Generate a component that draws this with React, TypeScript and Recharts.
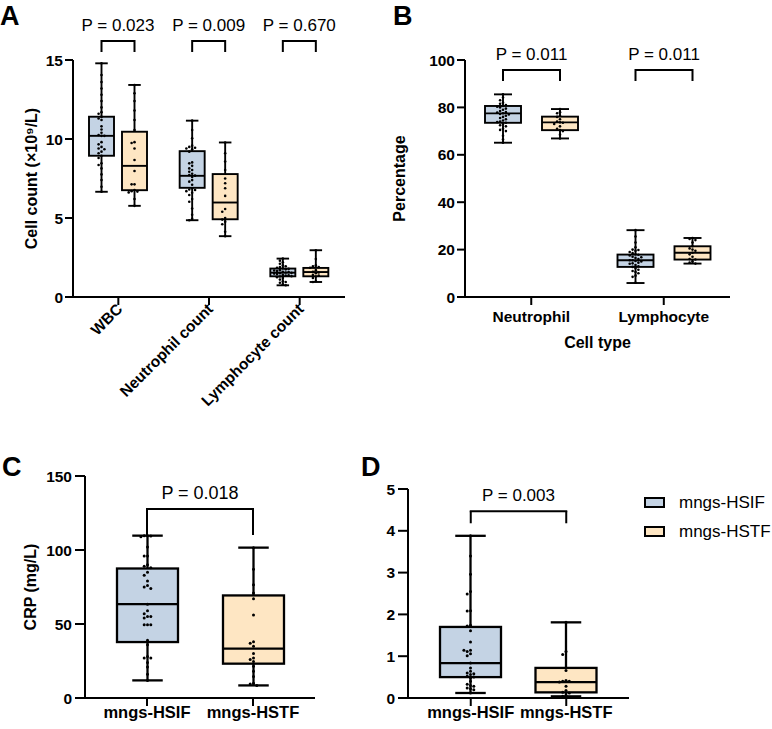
import React from 'react';
import { ComposedChart, Bar, XAxis, YAxis, ReferenceLine, Legend } from 'recharts';

const FONT = '"Liberation Sans", Arial, Helvetica, sans-serif';

const groupNames = ['mngs-HSIF', 'mngs-HSTF'];
const groupFills = ['#c4d3e4', '#fee6c3'];

// A: cell counts, boxes are [min, q1, median, q3, max]
const countCats = ['WBC', 'Neutrophil count', 'Lymphocyte count'];
const countP = ['P = 0.023', 'P = 0.009', 'P = 0.670'];
const countHsifBox = [
  [6.66, 8.94, 10.2, 11.41, 14.79],
  [4.86, 6.91, 7.67, 9.23, 11.16],
  [0.74, 1.31, 1.54, 1.8, 2.43],
];
const countHstfBox = [
  [5.77, 6.76, 8.3, 10.46, 13.42],
  [3.85, 4.92, 5.98, 7.78, 9.78],
  [0.95, 1.31, 1.58, 1.84, 2.96],
];
const countHsifPts = [
  [14.79, 14.05, 13.6, 13.2, 12.8, 12.4, 12.0, 11.7, 11.6, 11.4, 11.3, 11.2, 10.8, 10.6, 10.4, 10.25, 10.2,
    10.2, 9.8, 9.66, 9.5, 9.4, 9.35, 9.2, 9.1, 8.94, 8.8, 8.46, 8.35, 8.14, 7.76, 7.4, 6.98, 6.66],
  [11.16, 10.57, 10.04, 9.58, 9.5, 9.45, 9.4, 9.35, 9.2, 8.52, 8.46, 8.3, 8.14, 8.04, 7.93, 7.8, 7.72,
    7.68, 7.6, 7.4, 7.3, 7.1, 6.88, 6.8, 6.77, 6.7, 6.6, 6.46, 6.2, 6.03, 5.6, 5.2, 4.95, 4.86],
  [2.43, 2.3, 2.2, 2.1, 2.0, 1.95, 1.9, 1.85, 1.8, 1.78, 1.75, 1.7, 1.68, 1.65, 1.6, 1.58, 1.55,
    1.53, 1.5, 1.48, 1.45, 1.4, 1.38, 1.35, 1.32, 1.3, 1.25, 1.2, 1.1, 1.0, 0.95, 0.9, 0.8, 0.74],
];
const countHstfPts = [
  [13.42, 12.9, 12.4, 11.8, 11.2, 10.57, 9.8, 9.75, 9.4, 8.67, 7.97, 7.13, 7.13, 6.77, 6.7, 6.67, 6.62, 6.2, 5.77],
  [9.78, 9.1, 8.57, 8.04, 7.5, 7.2, 6.88, 6.4, 5.57, 5.4, 5.0, 4.9, 4.77, 4.6, 4.13, 3.85],
  [2.96, 2.4, 2.0, 1.95, 1.9, 1.85, 1.7, 1.6, 1.55, 1.5, 1.4, 1.35, 1.3, 1.2, 1.0, 0.95],
];

// B: percentages
const pctCats = ['Neutrophil', 'Lymphocyte'];
const pctP = ['P = 0.011', 'P = 0.011'];
const pctHsifBox = [
  [65.1, 73.5, 77.5, 80.6, 85.5],
  [5.9, 12.7, 15.5, 17.9, 28.2],
];
const pctHstfBox = [
  [66.9, 70.4, 73.7, 76.1, 79.3],
  [14.1, 15.8, 18.7, 21.4, 24.9],
];
const pctHsifPts = [
  [85.5, 84.2, 83, 82, 81.5, 81, 80.6, 80.3, 80, 79.5, 79, 78.5, 78, 77.8, 77.5, 77.2, 77,
    76.5, 76, 75.5, 75, 74.5, 74, 73.8, 73.5, 73, 72.5, 72, 71, 70.5, 70, 68, 66.5, 65.1],
  [28.2, 25.5, 23, 21, 20, 19.8, 19.5, 19, 18.5, 18, 17.8, 17.5, 17, 16.8, 16.5, 16, 15.5,
    15.5, 15.2, 15, 14.5, 14.2, 14, 13.5, 13, 12.7, 12.2, 11.5, 11, 10.5, 10, 9, 8.5, 6],
];
const pctHstfPts = [
  [79.3, 78, 77.5, 76.5, 76, 75, 74, 73.7, 73.5, 73, 72, 71, 70.4, 70, 68.5, 66.9],
  [24.9, 24.5, 24, 23, 21.4, 20.5, 20, 19.5, 18.7, 18, 17, 16, 15.8, 15, 14.5, 14.1],
];

// C: CRP
const crpP = 'P = 0.018';
const crpBox = [
  [11.9, 37.8, 63.4, 87.5, 109.7],
  [8.5, 23.2, 33.3, 69.3, 101.6],
];
const crpPts = [
  [109.7, 109.7, 109.5, 109, 102, 96, 96, 90, 89, 88, 85, 83, 79, 76, 75, 74, 63.4, 59, 57, 55,
    55, 54, 49.5, 49.5, 49.5, 39, 36, 28, 27, 27, 24, 21, 16, 11.9],
  [101.6, 87, 76.5, 71, 67, 56, 38, 37, 35, 30, 27, 26, 24.7, 21.4, 18, 14.6, 10, 9.4, 8.5],
];

// D
const dP = 'P = 0.003';
const dBox = [
  [0.12, 0.5, 0.836, 1.7, 3.88],
  [0.04, 0.135, 0.38, 0.72, 1.81],
];
const dPts = [
  [3.88, 3.4, 2.96, 2.55, 2.49, 2.09, 2.08, 1.74, 1.72, 1.61, 1.34, 1.14, 1.14, 1.11, 1.06, 1.01, 0.84,
    0.72, 0.64, 0.6, 0.58, 0.56, 0.52, 0.5, 0.48, 0.4, 0.33, 0.3, 0.28, 0.24, 0.22, 0.2, 0.12],
  [1.81, 1.11, 1.04, 0.66, 0.42, 0.4, 0.4, 0.38, 0.28, 0.18, 0.14, 0.12, 0.06, 0.04],
];

const countRows = countCats.map((name, i) => ({
  name, p: countP[i], a: countHsifBox[i], b: countHstfBox[i], aPts: countHsifPts[i], bPts: countHstfPts[i],
}));
const pctRows = pctCats.map((name, i) => ({
  name, p: pctP[i], a: pctHsifBox[i], b: pctHstfBox[i], aPts: pctHsifPts[i], bPts: pctHstfPts[i],
}));
const crpRows = groupNames.map((name, i) => ({ name, idx: i, box: crpBox[i], pts: crpPts[i] }));
const dRows = groupNames.map((name, i) => ({ name, idx: i, box: dBox[i], pts: dPts[i] }));

const axisStroke = { stroke: '#000', strokeWidth: 2 };
const tickFont = { fill: '#000', fontSize: 15.5, fontWeight: 700, fontFamily: FONT };

// spread dots sideways so that they do not overlap (Prism-style scatter)
function swarm(values: number[], toY: (v: number) => number, cx: number, step: number, maxHalf: number) {
  const placed: { x: number; y: number }[] = [];
  const order = values.map((v) => toY(v)).sort((a, b) => a - b);
  for (const y of order) {
    let chosen = cx;
    for (let k = 0; k < 30; k++) {
      const dx = k === 0 ? 0 : Math.ceil(k / 2) * step * (k % 2 ? -1 : 1);
      if (Math.abs(dx) > maxHalf) continue;
      const cand = cx + dx;
      if (placed.every((q) => Math.hypot(q.x - cand, q.y - y) >= step)) {
        chosen = cand;
        break;
      }
    }
    placed.push({ x: chosen, y });
  }
  return placed;
}

type GlyphProps = {
  x: number; width: number; toY: (v: number) => number; stats: number[]; pts: number[];
  fill: string; dot: number; step: number; sw: number;
};

function BoxGlyph({ x, width, toY, stats, pts, fill, dot, step, sw }: GlyphProps) {
  const [mn, q1, md, q3, mx] = stats;
  const cx = x + width / 2;
  const cap = width / 4;
  const dots = swarm(pts, toY, cx, step, width / 2 - dot - 1);
  return (
    <g>
      <line x1={cx} x2={cx} y1={toY(mx)} y2={toY(mn)} stroke="#000" strokeWidth={sw} />
      <line x1={cx - cap} x2={cx + cap} y1={toY(mx)} y2={toY(mx)} stroke="#000" strokeWidth={sw} />
      <line x1={cx - cap} x2={cx + cap} y1={toY(mn)} y2={toY(mn)} stroke="#000" strokeWidth={sw} />
      <rect x={x} y={toY(q3)} width={width} height={toY(q1) - toY(q3)} fill={fill} stroke="#000" strokeWidth={sw} />
      {dots.map((d, i) => (
        <circle key={i} cx={d.x} cy={d.y} r={dot} fill="#000" />
      ))}
      <line x1={x} x2={x + width} y1={toY(md)} y2={toY(md)} stroke="#000" strokeWidth={sw} />
    </g>
  );
}

// the bar spans [min, max]; its own height gives the value-to-pixel mapping
function barMapping(props: any, lo: number, hi: number) {
  const top = Math.min(props.y, props.y + props.height);
  const k = Math.abs(props.height) / (hi - lo);
  return (v: number) => top + (hi - v) * k;
}

type PairOpts = { side: 'a' | 'b'; fill: string; dot: number; step: number; sw: number; gap: number; bracket?: [number, number] };

const pairedShape = (o: PairOpts) => (props: any) => {
  const row = props.payload ?? props;
  const stats: number[] = row[o.side];
  const pts: number[] = row[o.side + 'Pts'];
  const toY = barMapping(props, stats[0], stats[4]);
  const xl = props.x + props.width / 2;
  const xr = xl + props.width + o.gap;
  return (
    <g>
      <BoxGlyph x={props.x} width={props.width} toY={toY} stats={stats} pts={pts} fill={o.fill} dot={o.dot} step={o.step} sw={o.sw} />
      {o.bracket && (
        <g>
          <path
            d={`M${xl},${toY(o.bracket[1])}V${toY(o.bracket[0])}H${xr}V${toY(o.bracket[1])}`}
            fill="none" stroke="#000" strokeWidth={2}
          />
          <text x={(xl + xr) / 2} y={toY(o.bracket[0]) - 10} textAnchor="middle" fontSize={17} fontFamily={FONT} fill="#000">
            {row.p}
          </text>
        </g>
      )}
    </g>
  );
};

const singleShape = (dot: number, step: number, sw: number) => (props: any) => {
  const row = props.payload ?? props;
  const toY = barMapping(props, row.box[0], row.box[4]);
  return (
    <BoxGlyph x={props.x} width={props.width} toY={toY} stats={row.box} pts={row.pts}
      fill={groupFills[row.idx]} dot={dot} step={step} sw={sw} />
  );
};

const SlantTick = (props: any) => {
  const { x, y, payload } = props;
  return (
    <text x={x + 5} y={y + 3} transform={`rotate(-45 ${x + 5} ${y + 3})`} textAnchor="end"
      fontSize={15.5} fontWeight={700} fontFamily={FONT} fill="#000">
      {payload.value}
    </text>
  );
};

function CountPanel() {
  const gap = 8;
  return (
    <ComposedChart width={360} height={420} data={countRows} margin={{ top: 60, right: 15, bottom: 13, left: 0 }} barSize={25} barGap={gap}>
      <XAxis dataKey="name" height={110} interval={0} axisLine={axisStroke} tickLine={axisStroke} tickSize={8} tickMargin={2}
        tick={(p: any) => <SlantTick {...p} />} />
      <YAxis width={73} domain={[0, 15]} ticks={[0, 5, 10, 15]} axisLine={axisStroke} tickLine={axisStroke} tickSize={8} tickMargin={2}
        tick={tickFont}
        label={{ value: 'Cell count (×10⁹/L)', angle: -90, position: 'insideLeft', offset: 31, style: { textAnchor: 'middle' },
          fontSize: 16, fontWeight: 700, fill: '#000', fontFamily: FONT }} />
      <Bar dataKey={(r: any) => [r.a[0], r.a[4]]} fill={groupFills[0]} isAnimationActive={false}
        shape={pairedShape({ side: 'a', fill: groupFills[0], dot: 1.3, step: 2.9, sw: 1.9, gap, bracket: [16.2, 15.5] })} />
      <Bar dataKey={(r: any) => [r.b[0], r.b[4]]} fill={groupFills[1]} isAnimationActive={false}
        shape={pairedShape({ side: 'b', fill: groupFills[1], dot: 1.3, step: 2.9, sw: 1.9, gap })} />
    </ComposedChart>
  );
}

function PercentPanel() {
  const gap = 21;
  return (
    <ComposedChart width={360} height={360} data={pctRows} margin={{ top: 60, right: 20, bottom: 12, left: 0 }} barSize={36} barGap={gap}>
      <XAxis dataKey="name" height={51} interval={0} axisLine={axisStroke} tickLine={axisStroke} tickSize={8} tickMargin={6}
        tick={tickFont}
        label={{ value: 'Cell type', position: 'insideBottom', offset: 0, fontSize: 16, fontWeight: 700, fill: '#000', fontFamily: FONT }} />
      <YAxis width={75} domain={[0, 100]} ticks={[0, 20, 40, 60, 80, 100]} axisLine={axisStroke} tickLine={axisStroke} tickSize={8} tickMargin={2}
        tick={tickFont}
        label={{ value: 'Percentage', angle: -90, position: 'insideLeft', offset: 9, style: { textAnchor: 'middle' },
          fontSize: 16, fontWeight: 700, fill: '#000', fontFamily: FONT }} />
      <Bar dataKey={(r: any) => [r.a[0], r.a[4]]} fill={groupFills[0]} isAnimationActive={false}
        shape={pairedShape({ side: 'a', fill: groupFills[0], dot: 1.3, step: 2.9, sw: 1.9, gap, bracket: [95.8, 91.1] })} />
      <Bar dataKey={(r: any) => [r.b[0], r.b[4]]} fill={groupFills[1]} isAnimationActive={false}
        shape={pairedShape({ side: 'b', fill: groupFills[1], dot: 1.3, step: 2.9, sw: 1.9, gap })} />
    </ComposedChart>
  );
}

function GroupLegend() {
  return (
    <div style={{ fontFamily: FONT, fontSize: 17, color: '#000' }}>
      {groupNames.map((g, i) => (
        <div key={g} style={{ display: 'flex', alignItems: 'center', height: 29 }}>
          <span style={{ display: 'inline-block', width: 21, height: 11, boxSizing: 'border-box', border: '2px solid #000',
            background: groupFills[i], marginRight: 14 }} />
          <span>{g}</span>
        </div>
      ))}
    </div>
  );
}

// significance bracket between the two group boxes, with its p-value on top
const bracketLines = (top: number, bottom: number, p: string, size: number) => [
  <ReferenceLine key="l" segment={[{ x: groupNames[0], y: bottom }, { x: groupNames[0], y: top }]} stroke="#000" strokeWidth={2} />,
  <ReferenceLine key="m" segment={[{ x: groupNames[0], y: top }, { x: groupNames[1], y: top }]} stroke="#000" strokeWidth={2}
    strokeLinecap="square"
    label={{ value: p, position: 'top', offset: 10, fontSize: size, fill: '#000', fontFamily: FONT }} />,
  <ReferenceLine key="r" segment={[{ x: groupNames[1], y: top }, { x: groupNames[1], y: bottom }]} stroke="#000" strokeWidth={2} />,
];

function CrpPanel() {
  return (
    <ComposedChart width={330} height={289} data={crpRows} margin={{ top: 36, right: 15, bottom: 1, left: 0 }} barSize={61}>
      <XAxis dataKey="name" height={30} interval={0} padding={{ left: 9, right: 9 }} axisLine={axisStroke} tickLine={axisStroke}
        tickSize={8} tickMargin={0} tick={{ ...tickFont, fontSize: 16.5 }} />
      <YAxis width={85} domain={[0, 150]} ticks={[0, 50, 100, 150]} axisLine={axisStroke} tickLine={axisStroke} tickSize={10} tickMargin={3}
        tick={tickFont}
        label={{ value: 'CRP (mg/L)', angle: -90, position: 'insideLeft', offset: 30, style: { textAnchor: 'middle' },
          fontSize: 16, fontWeight: 700, fill: '#000', fontFamily: FONT }} />
      <Bar dataKey={(r: any) => [r.box[0], r.box[4]]} fill={groupFills[0]} isAnimationActive={false} shape={singleShape(1.5, 3.3, 2.3)} />
      {bracketLines(127.7, 110.2, crpP, 18)}
    </ComposedChart>
  );
}

function DPanel() {
  return (
    <ComposedChart width={402} height={289} data={dRows} margin={{ top: 49, right: 143, bottom: 1, left: 0 }} barSize={61}>
      <XAxis dataKey="name" height={30} interval={0} padding={{ left: 15, right: 15 }} axisLine={axisStroke} tickLine={axisStroke}
        tickSize={8} tickMargin={0} tick={{ ...tickFont, fontSize: 16.5 }} />
      <YAxis width={38} domain={[0, 5]} ticks={[0, 1, 2, 3, 4, 5]} axisLine={axisStroke} tickLine={axisStroke} tickSize={10} tickMargin={3}
        tick={tickFont} />
      <Bar dataKey={(r: any) => [r.box[0], r.box[4]]} fill={groupFills[0]} isAnimationActive={false} shape={singleShape(1.5, 3.3, 2.3)} />
      {bracketLines(4.47, 4.18, dP, 17)}
      <Legend layout="vertical" align="center" verticalAlign="middle" wrapperStyle={{ left: 274, top: 48, width: 130 }}
        content={() => <GroupLegend />} />
    </ComposedChart>
  );
}

const panelLetters = [
  { t: 'A', x: 0, y: 25 },
  { t: 'B', x: 393, y: 25 },
  { t: 'C', x: 2, y: 476 },
  { t: 'D', x: 361, y: 476 },
];

export default function App() {
  return (
    <div style={{ position: 'absolute', left: 0, top: 0, width: 772, height: 729, background: '#fff', overflow: 'hidden' }}>
      <div style={{ position: 'absolute', left: 0, top: 0 }}><CountPanel /></div>
      <div style={{ position: 'absolute', left: 390, top: 0 }}><PercentPanel /></div>
      <div style={{ position: 'absolute', left: 0, top: 440 }}><CrpPanel /></div>
      <div style={{ position: 'absolute', left: 370, top: 440 }}><DPanel /></div>
      <svg width={772} height={729} style={{ position: 'absolute', left: 0, top: 0, pointerEvents: 'none' }}>
        {panelLetters.map((l) => (
          <text key={l.t} x={l.x} y={l.y} fontSize={27} fontWeight={700} fontFamily={FONT} fill="#000">{l.t}</text>
        ))}
      </svg>
    </div>
  );
}
